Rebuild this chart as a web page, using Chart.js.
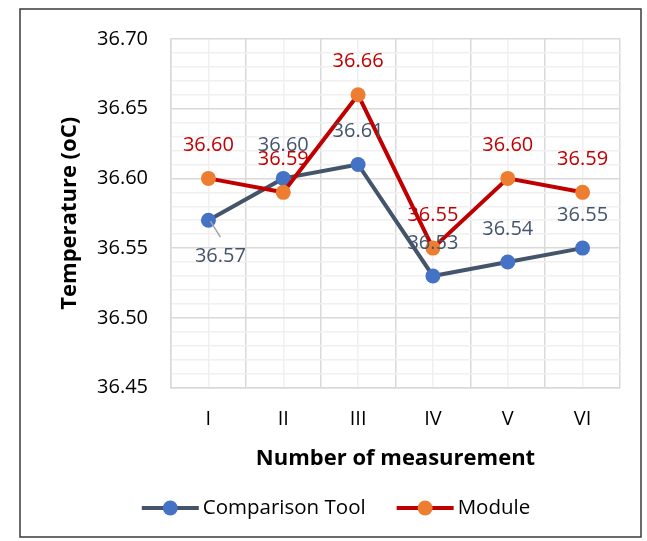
<!DOCTYPE html>
<html>
<head>
<meta charset="utf-8">
<script src="https://cdn.jsdelivr.net/npm/chart.js@4"></script>
<style>
  body { margin: 0; background: #fff; }
  #wrap { position: relative; width: 647px; height: 541px; }
</style>
</head>
<body>
<div id="wrap"><canvas id="tempChart"></canvas></div>
<script>
// values
const categories = ['I', 'II', 'III', 'IV', 'V', 'VI'];
const comparisonTool = [36.57, 36.60, 36.61, 36.53, 36.54, 36.55];
const moduleValues = [36.60, 36.59, 36.66, 36.55, 36.60, 36.59];
const yTicks = [36.45, 36.50, 36.55, 36.60, 36.65, 36.70];

const FONT = '"Open Sans"';
const isMajor = v => Math.round(v * 100) % 5 === 0;

// outer frame of the chart object
const framePlugin = {
    id: 'frame',
    beforeDraw(chart) {
        const ctx = chart.ctx;
        ctx.save();
        ctx.fillStyle = '#fff';
        ctx.fillRect(0, 0, chart.width, chart.height);
        ctx.strokeStyle = '#3a3a3a';
        ctx.lineWidth = 1.5;
        ctx.strokeRect(20, 9, 621, 528);
        ctx.restore();
    }
};

// value labels above the points (first comparison point sits below with a leader line)
const valueLabels = {
    id: 'valueLabels',
    afterDatasetsDraw(chart) {
        const ctx = chart.ctx;
        ctx.save();
        ctx.font = '20px ' + FONT;
        ctx.textAlign = 'center';
        ctx.textBaseline = 'middle';
        chart.data.datasets.forEach((ds, di) => {
            const meta = chart.getDatasetMeta(di);
            meta.data.forEach((pt, i) => {
                let x = pt.x, y = pt.y - 33;
                if (di === 0 && i === 0) {
                    ctx.strokeStyle = '#a6a6a6';
                    ctx.lineWidth = 1.5;
                    ctx.beginPath();
                    ctx.moveTo(pt.x + 2, pt.y + 1);
                    ctx.lineTo(pt.x + 12, pt.y + 17);
                    ctx.stroke();
                    x = pt.x + 12;
                    y = pt.y + 36;
                }
                ctx.fillStyle = ds.labelColor;
                ctx.fillText(ds.data[i].toFixed(2), x, y);
            });
        });
        ctx.restore();
    }
};

// legend with line + marker symbols, like the spreadsheet one
const lineLegend = {
    id: 'lineLegend',
    afterDraw(chart) {
        const ctx = chart.ctx;
        ctx.save();
        ctx.font = '20.5px ' + FONT;
        ctx.textBaseline = 'middle';
        const symW = 57, gap = 4, itemGap = 31;
        const widths = chart.data.datasets.map(ds => symW + gap + ctx.measureText(ds.label).width);
        const total = widths.reduce((a, b) => a + b, 0) + itemGap * (widths.length - 1);
        let x = 336 - total / 2;
        const y = 508;
        chart.data.datasets.forEach((ds, i) => {
            ctx.strokeStyle = ds.borderColor;
            ctx.lineWidth = 4;
            ctx.beginPath();
            ctx.moveTo(x, y);
            ctx.lineTo(x + symW, y);
            ctx.stroke();
            ctx.fillStyle = ds.pointBackgroundColor;
            ctx.beginPath();
            ctx.arc(x + symW / 2, y, 7.5, 0, Math.PI * 2);
            ctx.fill();
            ctx.fillStyle = '#000';
            ctx.textAlign = 'left';
            ctx.fillText(ds.label, x + symW + gap, y);
            x += widths[i] + itemGap;
        });
        ctx.restore();
    }
};

const ctx = document.getElementById('tempChart').getContext('2d');
const tempChart = new Chart(ctx, {
    type: 'line',
    data: {
        labels: categories,
        datasets: [{
            label: 'Comparison Tool',
            data: comparisonTool,
            borderColor: '#44546A',
            pointBackgroundColor: '#4472C4',
            pointBorderColor: '#4472C4',
            labelColor: '#44546A',
            borderWidth: 4,
            pointRadius: 7.5,
            pointBorderWidth: 0,
            order: 1
        }, {
            label: 'Module',
            data: moduleValues,
            borderColor: '#C00000',
            pointBackgroundColor: '#ED7D31',
            pointBorderColor: '#ED7D31',
            labelColor: '#C00000',
            borderWidth: 4,
            pointRadius: 7.5,
            pointBorderWidth: 0,
            order: 0
        }]
    },
    options: {
        responsive: true,
        maintainAspectRatio: false,
        animation: false,
        layout: { padding: { left: 57, right: 27, top: 39, bottom: 69 } },
        plugins: {
            legend: { display: false },
            tooltip: { enabled: false }
        },
        scales: {
            x: {
                type: 'category',
                offset: true,
                grid: { offset: true, color: '#d9d9d9', lineWidth: 1.5, drawTicks: false },
                border: { color: '#d9d9d9', width: 1.5 },
                ticks: { color: '#000', font: { family: FONT, size: 20 }, padding: 20 },
                title: {
                    display: true,
                    text: 'Number of measurement',
                    color: '#000',
                    font: { family: FONT, size: 22, weight: 'bold' },
                    padding: 0
                },
                afterFit(scale) { scale.height = 84.5; }
            },
            x2: {
                type: 'category',
                labels: categories,
                position: 'bottom',
                offset: true,
                grid: { offset: false, color: '#f0f0f0', lineWidth: 1.5, drawTicks: false },
                border: { display: false },
                ticks: { display: false },
                afterFit(scale) { scale.height = 0; }
            },
            y: {
                min: yTicks[0],
                max: yTicks[yTicks.length - 1],
                grid: {
                    color: c => isMajor(c.tick.value) ? '#d9d9d9' : '#f0f0f0',
                    lineWidth: 1.5,
                    drawTicks: false
                },
                border: { color: '#d9d9d9', width: 1.5 },
                ticks: {
                    stepSize: 0.01,
                    autoSkip: false,
                    color: '#000',
                    padding: 23,
                    font: { family: FONT, size: 20 },
                    callback: v => isMajor(v) ? v.toFixed(2) : ''
                },
                title: {
                    display: true,
                    text: 'Temperature (oC)',
                    color: '#000',
                    font: { family: FONT, size: 22, weight: 'bold' },
                    padding: 0
                },
                afterFit(scale) { scale.width = 114; }
            }
        }
    },
    plugins: [framePlugin, valueLabels, lineLegend]
});
</script>
</body>
</html>
